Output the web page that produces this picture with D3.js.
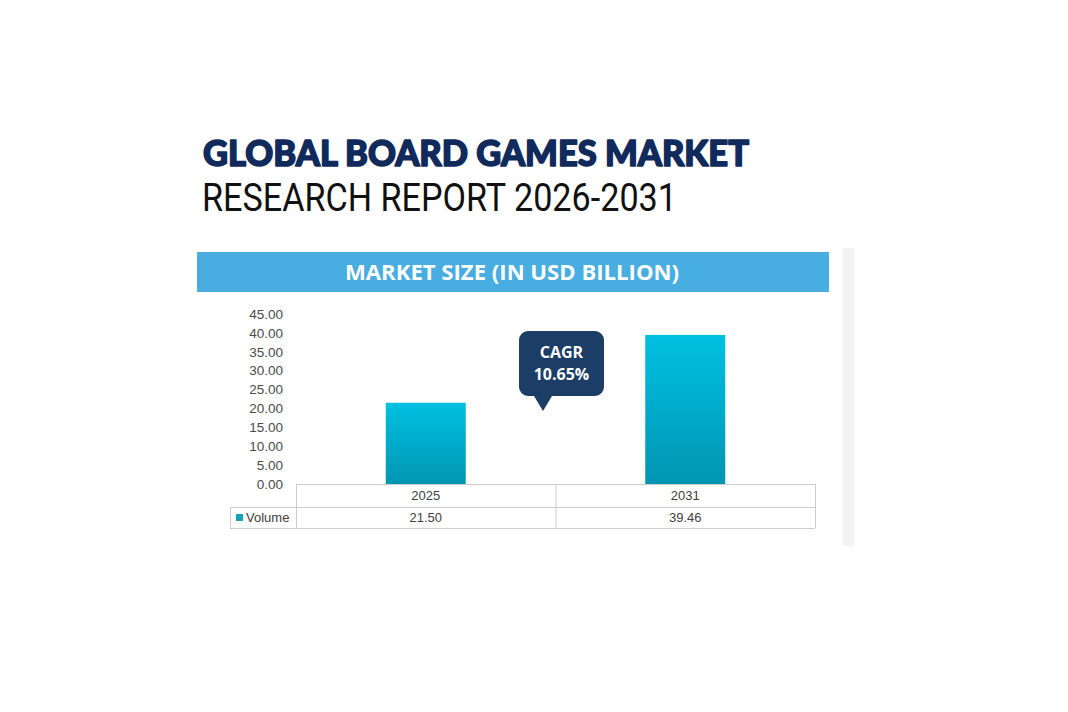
<!DOCTYPE html>
<html>
<head>
<meta charset="utf-8">
<script src="https://cdn.jsdelivr.net/npm/d3@7"></script>
<style>
  html, body { margin: 0; padding: 0; background: #ffffff; }
  svg { display: block; }
</style>
</head>
<body>
<svg id="chart" width="1068" height="712"></svg>
<script>
// ---- data ----
const titleLine1 = "GLOBAL BOARD GAMES MARKET";
const titleLine2 = "RESEARCH REPORT 2026-2031";
const headerText = "MARKET SIZE (IN USD BILLION)";
const categories = ["2025", "2031"];
const seriesName = "Volume";
const values = [21.50, 39.46];
const yTicks = [0, 5, 10, 15, 20, 25, 30, 35, 40, 45];
const cagrLabel = ["CAGR", "10.65%"];

// ---- layout ----
const svg = d3.select("#chart");
const plotLeft = 296, plotRight = 815;
const y0 = 484, yTop = 314;

const x = d3.scaleBand().domain(categories).range([plotLeft, plotRight]).padding(0);
const y = d3.scaleLinear().domain([0, 45]).range([y0, yTop]);

// gradient for bars
const defs = svg.append("defs");
const grad = defs.append("linearGradient").attr("id", "barGrad")
  .attr("x1", 0).attr("y1", 0).attr("x2", 0).attr("y2", 1);
grad.append("stop").attr("offset", "0%").attr("stop-color", "#00c0e2");
grad.append("stop").attr("offset", "100%").attr("stop-color", "#0096b2");

// right gray strip
svg.append("rect").attr("x", 843).attr("y", 248).attr("width", 11).attr("height", 298)
  .attr("fill", "#f3f3f3");

// titles
svg.append("text").attr("x", 203).attr("y", 166)
  .attr("font-family", "Lato, 'Open Sans', sans-serif").attr("font-weight", 900)
  .attr("font-size", 36).attr("fill", "#102a5c")
  .attr("stroke", "#102a5c").attr("stroke-width", 1.6).attr("stroke-linejoin", "round")
  .attr("textLength", 546).attr("lengthAdjust", "spacingAndGlyphs")
  .text(titleLine1);
svg.append("text").attr("x", 202).attr("y", 211)
  .attr("font-family", "Roboto, 'Liberation Sans', sans-serif").attr("font-weight", 400)
  .attr("font-size", 38).attr("fill", "#111111")
  .attr("textLength", 475).attr("lengthAdjust", "spacingAndGlyphs")
  .text(titleLine2);

// header bar
svg.append("rect").attr("x", 197).attr("y", 252).attr("width", 632).attr("height", 40)
  .attr("fill", "#48ade0");
svg.append("text").attr("x", 512).attr("y", 280).attr("text-anchor", "middle")
  .attr("font-family", "'Open Sans', sans-serif").attr("font-weight", 700)
  .attr("font-size", 22).attr("fill", "#ffffff")
  .attr("textLength", 334).attr("lengthAdjust", "spacingAndGlyphs")
  .text(headerText);

// y axis labels
const yAxis = d3.axisLeft(y).tickValues(yTicks).tickFormat(d3.format(".2f")).tickSize(0).tickPadding(0);
const yg = svg.append("g").attr("transform", "translate(283,0)").call(yAxis);
yg.select(".domain").remove();
yg.selectAll("text").attr("font-family", "'Liberation Sans', Arial, sans-serif")
  .attr("font-size", 13.5).attr("fill", "#4a4a4a");

// bars
const barW = 80;
svg.append("g").selectAll("rect").data(values).join("rect")
  .attr("x", (d, i) => x(categories[i]) + x.bandwidth() / 2 - barW / 2)
  .attr("y", d => y(d))
  .attr("width", barW)
  .attr("height", d => y0 - y(d))
  .attr("fill", "url(#barGrad)");

// data table
const rowH1 = 23, rowH2 = 21;
const tblTop = y0, tblMid = y0 + rowH1, tblBot = y0 + rowH1 + rowH2;
const legendLeft = 230;
const grid = svg.append("g").attr("stroke", "#cccccc").attr("stroke-width", 1).attr("fill", "none");
grid.append("line").attr("x1", plotLeft).attr("x2", plotRight).attr("y1", tblTop + 0.5).attr("y2", tblTop + 0.5);
grid.append("line").attr("x1", legendLeft).attr("x2", plotRight).attr("y1", tblMid + 0.5).attr("y2", tblMid + 0.5);
grid.append("line").attr("x1", legendLeft).attr("x2", plotRight).attr("y1", tblBot + 0.5).attr("y2", tblBot + 0.5);
grid.append("line").attr("x1", legendLeft + 0.5).attr("x2", legendLeft + 0.5).attr("y1", tblMid).attr("y2", tblBot);
[plotLeft, x(categories[1]), plotRight].forEach(xx => {
  grid.append("line").attr("x1", xx + 0.5).attr("x2", xx + 0.5).attr("y1", tblTop).attr("y2", tblBot);
});

const tg = svg.append("g").attr("font-family", "'Liberation Sans', Arial, sans-serif")
  .attr("font-size", 13).attr("fill", "#404040").attr("text-anchor", "middle");
tg.selectAll("text.cat").data(categories).join("text").attr("class", "cat")
  .attr("x", d => x(d) + x.bandwidth() / 2).attr("y", tblTop + 16).text(d => d);
tg.selectAll("text.val").data(values).join("text").attr("class", "val")
  .attr("x", (d, i) => x(categories[i]) + x.bandwidth() / 2).attr("y", tblMid + 15)
  .text(d => d3.format(".2f")(d));

// legend key
svg.append("rect").attr("x", 236).attr("y", tblMid + 7).attr("width", 7).attr("height", 7).attr("fill", "#16a3b6");
svg.append("text").attr("x", 246).attr("y", tblMid + 15)
  .attr("font-family", "'Liberation Sans', Arial, sans-serif").attr("font-size", 13)
  .attr("fill", "#404040").text(seriesName);

// CAGR callout
const cx = 519, cy = 331, cw = 85, ch = 65, r = 9;
const tipX = 543, tipY = 411;
const path = d3.path();
path.moveTo(cx + r, cy);
path.lineTo(cx + cw - r, cy);
path.arcTo(cx + cw, cy, cx + cw, cy + r, r);
path.lineTo(cx + cw, cy + ch - r);
path.arcTo(cx + cw, cy + ch, cx + cw - r, cy + ch, r);
path.lineTo(tipX + 9, cy + ch);
path.lineTo(tipX, tipY);
path.lineTo(tipX - 9, cy + ch);
path.lineTo(cx + r, cy + ch);
path.arcTo(cx, cy + ch, cx, cy + ch - r, r);
path.lineTo(cx, cy + r);
path.arcTo(cx, cy, cx + r, cy, r);
path.closePath();
svg.append("path").attr("d", path.toString()).attr("fill", "#1c3d66");
svg.append("g").attr("font-family", "'Open Sans', sans-serif").attr("font-weight", 700)
  .attr("font-size", 16).attr("fill", "#ffffff").attr("text-anchor", "middle")
  .selectAll("text").data(cagrLabel).join("text")
  .attr("x", cx + cw / 2).attr("y", (d, i) => cy + 27 + i * 22).text(d => d);
</script>
</body>
</html>
